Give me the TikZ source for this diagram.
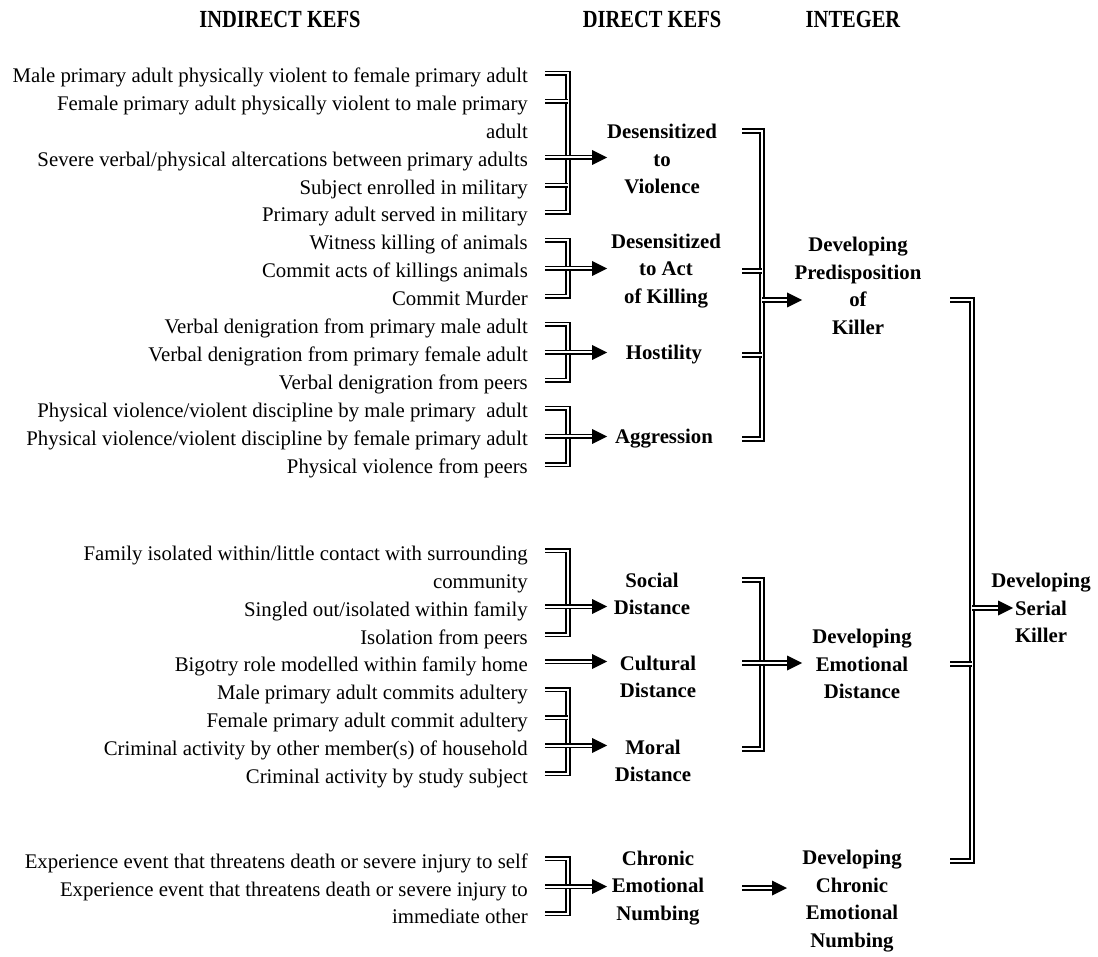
\documentclass[tikz,border=0pt]{standalone}
\usepackage{fontspec}
\setmainfont{Liberation Serif}
\usetikzlibrary{calc}
\tikzset{
  dl/.style={line width=1.6pt, double distance=2pt, double=white},
  lt/.style={anchor=east, inner sep=0pt, text height=19pt, text depth=0pt, font=\fontsize{20.8}{27.5}\selectfont},
  bt/.style={align=center, inner sep=0pt, font=\fontsize{20.8}{27.5}\selectfont\bfseries},
  hd/.style={inner sep=0pt, font=\fontsize{20.5}{24}\selectfont\bfseries},
}
\newcommand\kefarr[3]{%
  \draw[dl, shorten >=14pt] (#1 -| #2) -- (#1 -| #3);
  \fill (#1 -| #3) -- ++(-15,7.5) -- ++(0,-15) -- cycle;}
\newcommand\kefstub[3]{\draw[dl] (#1 -| #2) -- (#1 -| #3);}
\begin{document}
\begin{tikzpicture}[x=1pt,y=-1pt]
\useasboundingbox[fill=white] (0,0) rectangle (1098,957);
% columns
\coordinate (cA) at (545,0);
\coordinate (cB) at (568,0);
\coordinate (cT) at (607,0);
\coordinate (cC) at (742,0);
\coordinate (cD) at (762,0);
\coordinate (cE) at (802,0);
\coordinate (cF) at (950,0);
\coordinate (cG) at (972,0);
\coordinate (cH) at (1013,0);
\coordinate (cJ) at (787,0);
% headers
\node[hd] (h1) at (280,19) {\scalebox{1}[1.2]{INDIRECT KEFS}};
\node[hd] (h2) at (652,19) {\scalebox{1}[1.2]{DIRECT KEFS}};
\node[hd] (h3) at (853,19) {\scalebox{1}[1.2]{INTEGER}};
% indirect KEFs
\node[lt] (l1) at (528,73.5) {Male primary adult physically violent to female primary adult};
\node[lt] (l2) at (528,101.5) {Female primary adult physically violent to male primary};
\node[lt] (l3) at (528,129.5) {adult};
\node[lt] (l4) at (528,157.5) {Severe verbal/physical altercations between primary adults};
\node[lt] (l5) at (528,185.5) {Subject enrolled in military};
\node[lt] (l6) at (528,212.5) {Primary adult served in military};
\node[lt] (l7) at (528,240.5) {Witness killing of animals};
\node[lt] (l8) at (528,268.5) {Commit acts of killings animals};
\node[lt] (l9) at (528,296.5) {Commit Murder};
\node[lt] (l10) at (528,324.5) {Verbal denigration from primary male adult};
\node[lt] (l11) at (528,352.5) {Verbal denigration from primary female adult};
\node[lt] (l12) at (528,380.5) {Verbal denigration from peers};
\node[lt] (l13) at (528,408.5) {Physical violence/violent discipline by male primary\ \ adult};
\node[lt] (l14) at (528,436.5) {Physical violence/violent discipline by female primary adult};
\node[lt] (l15) at (528,464.5) {Physical violence from peers};
\node[lt] (m1) at (528,550.5) {Family isolated within/little contact with surrounding};
\node[lt] (m2) at (528,578.5) {community};
\node[lt] (m3) at (528,606.5) {Singled out/isolated within family};
\node[lt] (m4) at (528,634.5) {Isolation from peers};
\node[lt] (m5) at (528,661.5) {Bigotry role modelled within family home};
\node[lt] (m6) at (528,689.5) {Male primary adult commits adultery};
\node[lt] (m7) at (528,717.5) {Female primary adult commit adultery};
\node[lt] (m8) at (528,745.5) {Criminal activity by other member(s) of household};
\node[lt] (m9) at (528,773.5) {Criminal activity by study subject};
\node[lt] (n1) at (528,858.5) {Experience event that threatens death or severe injury to self};
\node[lt] (n2) at (528,886.5) {Experience event that threatens death or severe injury to};
\node[lt] (n3) at (528,913.5) {immediate other};
% direct KEFs
\node[bt] (dv) at (662,159) {Desensitized\\to\\Violence};
\node[bt] (dk) at (666,271) {Desensitized\\to Act\\of Killing};
\node[bt] (ho) at (664,355) {Hostility};
\node[bt] (ag) at (664,439) {Aggression};
\node[bt] (sd) at (652,594) {Social\\Distance};
\node[bt] (cd) at (658,677) {Cultural\\Distance};
\node[bt] (md) at (653,761) {Moral\\Distance};
\node[bt] (cn) at (658,888) {Chronic\\Emotional\\Numbing};
% integer
\node[bt] (pk) at (858,286) {Developing\\Predisposition\\of\\Killer};
\node[bt] (ed) at (862,664) {Developing\\Emotional\\Distance};
\node[bt] (dc) at (852,901) {Developing\\Chronic\\Emotional\\Numbing};
\node[bt] (sk) at (1041,608) {Developing\\Serial\\Killer};
% row coordinates
\coordinate (dvt) at ([yshift=28pt]dv.center);
\coordinate (pkof) at ([yshift=-14pt]pk.center);
\coordinate (sdt) at ([yshift=14pt]sd.center);
\coordinate (cdt) at ([yshift=14pt]cd.center);
\coordinate (mdt) at ([yshift=12pt]md.center);
\coordinate (dct) at ([yshift=40pt]dc.center);
% --- left brackets
\draw[dl] (l1.east -| cA) -| (l6.east -| cB) -- (l6.east -| cA);
\kefstub{l2.east}{cA}{cB}
\kefstub{l4.east}{cA}{cB}
\kefstub{l5.east}{cA}{cB}
\kefarr{l4.east}{cB}{cT}

\draw[dl] (l7.east -| cA) -| (l9.east -| cB) -- (l9.east -| cA);
\kefstub{l8.east}{cA}{cB}
\kefarr{l8.east}{cB}{cT}

\draw[dl] (l10.east -| cA) -| (l12.east -| cB) -- (l12.east -| cA);
\kefstub{l11.east}{cA}{cB}
\kefarr{l11.east}{cB}{cT}

\draw[dl] (l13.east -| cA) -| (l15.east -| cB) -- (l15.east -| cA);
\kefstub{l14.east}{cA}{cB}
\kefarr{l14.east}{cB}{cT}

\draw[dl] (m1.east -| cA) -| (m4.east -| cB) -- (m4.east -| cA);
\kefstub{m3.east}{cA}{cB}
\kefarr{m3.east}{cB}{cT}

\kefarr{m5.east}{cA}{cT}

\draw[dl] (m6.east -| cA) -| (m9.east -| cB) -- (m9.east -| cA);
\kefstub{m7.east}{cA}{cB}
\kefstub{m8.east}{cA}{cB}
\kefarr{m8.east}{cB}{cT}

\draw[dl] (n1.east -| cA) -| (n3.east -| cB) -- (n3.east -| cA);
\kefstub{n2.east}{cA}{cB}
\kefarr{n2.east}{cB}{cT}

% --- second column brackets
\draw[dl] (dvt -| cC) -| (ag.center -| cD) -- (ag.center -| cC);
\kefstub{dk.center}{cC}{cD}
\kefstub{ho.center}{cC}{cD}
\kefarr{pkof}{cD}{cE}

\draw[dl] (sdt -| cC) -| (mdt -| cD) -- (mdt -| cC);
\kefstub{cdt}{cC}{cD}
\kefarr{cdt}{cD}{cE}

\kefarr{cn.center}{cC}{cJ}

% --- serial killer bracket
\draw[dl] (pkof -| cF) -| (dct -| cG) -- (dct -| cF);
\kefstub{ed.center}{cF}{cG}
\kefarr{sk.center}{cG}{cH}
\end{tikzpicture}
\end{document}
